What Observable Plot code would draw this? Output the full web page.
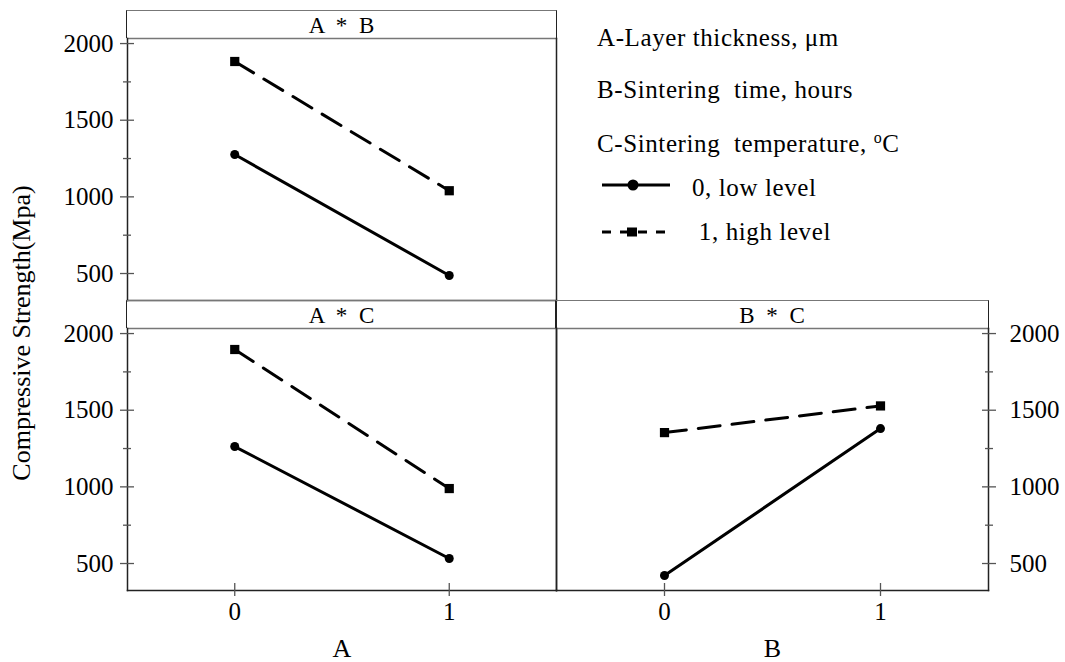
<!DOCTYPE html>
<html><head><meta charset="utf-8">
<script src="https://cdn.jsdelivr.net/npm/d3@7"></script>
<script src="https://cdn.jsdelivr.net/npm/@observablehq/plot@0.6"></script>
<style>
body{margin:0;background:#fff;}
#chart{position:relative;width:1065px;height:662px;background:#fff;font-family:'Liberation Serif';color:#000;overflow:hidden}
#chart svg.plotsvg{position:absolute;left:0;top:0;}
.strip{position:absolute;box-sizing:border-box;border-left:1.5px solid #222;border-right:1.5px solid #222;border-top:1.3px solid #777;height:28px;padding-left:3px;text-align:center;font-size:23px;letter-spacing:3px;line-height:30px;white-space:pre;font-family:'Liberation Serif';}
.t{position:absolute;white-space:pre;font-size:25px;line-height:1;font-family:'Liberation Serif';}
</style></head><body><div id="chart"></div>
<script>
// ---- data ----
const levels = [0, 1];
const abLow = [1276, 487];
const abHigh = [1883, 1040];
const acLow = [1263, 533];
const acHigh = [1896, 989];
const bcLow = [422, 1380];
const bcHigh = [1354, 1528];
const yMajor = [500, 1000, 1500, 2000];
const yMinor = [750, 1250, 1750];
const xTicks = [0, 1];
const strips = ["A * B", "A * C", "B * C"];
const xTitles = ["A", "B"];
const yTitle = "Compressive Strength(Mpa)";
const legendFactors = ["A-Layer thickness, μm", "B-Sintering  time, hours", "C-Sintering  temperature, "];
const legendLevels = ["0, low level", " 1, high level"];

const W = 1065, H = 662;
const FONT = "'Liberation Serif'";
const chart = document.getElementById("chart");
const fmt = d => String(d);

function rowsOf(low, high) {
  return levels.flatMap((x, i) => [{x, y: low[i], c: "low"}, {x, y: high[i], c: "high"}]);
}

function panel({left, right, top, bottom, low, high, yAnchor, xAxis, xLabel}) {
  const rows = rowsOf(low, high);
  const lowD = rows.filter(d => d.c === "low");
  const highD = rows.filter(d => d.c === "high");
  const s = yAnchor === "left" ? 1 : -1;
  const marks = [
    Plot.frame({anchor: "top", stroke: "#777", strokeWidth: 1.3}),
    Plot.frame({anchor: "left", stroke: "#222", strokeWidth: 1.5}),
    Plot.frame({anchor: "right", stroke: "#222", strokeWidth: 1.5}),
    Plot.frame({anchor: "bottom", stroke: "#222", strokeWidth: 1.5}),
    Plot.axisY(yMajor, {anchor: yAnchor, tickSize: 14, dx: 7 * s, fill: "none", stroke: "#555", strokeWidth: 1.3, label: null}),
    Plot.axisY(yMinor, {anchor: yAnchor, tickSize: 8, dx: 4 * s, fill: "none", stroke: "#555", strokeWidth: 1.3, label: null}),
    Plot.axisY(yMajor, {anchor: yAnchor, tickSize: 0, tickPadding: yAnchor === "left" ? 14 : 21, tickFormat: fmt, fontSize: 25, fontFamily: FONT, fill: "#000", label: null}),
    Plot.line(lowD, {x: "x", y: "y", stroke: "#000", strokeWidth: 3}),
    Plot.line(highD, {x: "x", y: "y", stroke: "#000", strokeWidth: 3, strokeDasharray: "22,12"}),
    Plot.dot(lowD, {x: "x", y: "y", symbol: "circle", r: 4.5, fill: "#000", stroke: "none"}),
    Plot.dot(highD, {x: "x", y: "y", symbol: "square", r: 5.2, fill: "#000", stroke: "none"})
  ];
  if (xAxis) {
    marks.push(
      Plot.axisX(xTicks, {anchor: "bottom", tickSize: 13, dy: -7, fill: "none", stroke: "#555", strokeWidth: 1.3, label: null}),
      Plot.axisX(xTicks, {anchor: "bottom", tickSize: 0, tickPadding: 12, tickFormat: fmt, fontSize: 25, fontFamily: FONT, fill: "#000", label: null}),
      Plot.text([xLabel], {text: d => d, frameAnchor: "bottom", dy: 58, lineAnchor: "middle", fontSize: 26, fontFamily: FONT, fill: "#000"})
    );
  }
  const svg = Plot.plot({
    width: W, height: H,
    marginLeft: left, marginRight: W - right, marginTop: top, marginBottom: H - bottom,
    style: {background: "transparent", overflow: "visible", fontFamily: FONT, color: "#000"},
    x: {domain: [-0.5, 1.5], axis: null},
    y: {domain: [324, 2033], axis: null},
    marks
  });
  svg.classList.add("plotsvg");
  chart.appendChild(svg);
}

panel({left: 127, right: 556, top: 38, bottom: 300, low: abLow, high: abHigh, yAnchor: "left", xAxis: false});
panel({left: 127, right: 556, top: 328, bottom: 590, low: acLow, high: acHigh, yAnchor: "left", xAxis: true, xLabel: xTitles[0]});
panel({left: 556, right: 988, top: 328, bottom: 590, low: bcLow, high: bcHigh, yAnchor: "right", xAxis: true, xLabel: xTitles[1]});

// strips
[[127, 10, 429, strips[0]], [127, 300, 429, strips[1]], [556, 300, 432, strips[2]]].forEach(([l, t, w, s]) => {
  const d = document.createElement("div");
  d.className = "strip";
  Object.assign(d.style, {left: (l - 0.75) + "px", top: t + "px", width: (w + 1.5) + "px"});
  d.textContent = s;
  chart.appendChild(d);
});

// y title
const yt = document.createElement("div");
yt.className = "t";
yt.textContent = yTitle;
Object.assign(yt.style, {left: "22px", top: "333px", fontSize: "26px", transform: "translate(-50%,-50%) rotate(-90deg)"});
chart.appendChild(yt);

// legend text
const lt = [[597, 38], [597, 90], [597, 143]];
legendFactors.forEach((s, i) => {
  const d = document.createElement("div");
  d.className = "t";
  d.textContent = s;
  if (i === 2) {
    const sup = document.createElement("span");
    sup.textContent = "o";
    Object.assign(sup.style, {fontSize: "16px", verticalAlign: "9px"});
    d.appendChild(sup);
    d.appendChild(document.createTextNode("C"));
  }
  Object.assign(d.style, {left: lt[i][0] + "px", top: (lt[i][1] - 13) + "px", letterSpacing: "0.6px"});
  chart.appendChild(d);
});
[[692, 188], [692, 232]].forEach(([x, y], i) => {
  const d = document.createElement("div");
  d.className = "t";
  d.textContent = legendLevels[i];
  Object.assign(d.style, {left: x + "px", top: (y - 13) + "px", letterSpacing: "0.6px"});
  chart.appendChild(d);
});
// legend swatches
const ns = "http://www.w3.org/2000/svg";
const sw = document.createElementNS(ns, "svg");
sw.setAttribute("width", W); sw.setAttribute("height", H);
sw.style.position = "absolute"; sw.style.left = "0"; sw.style.top = "0";
sw.innerHTML = `
<line x1="602" y1="185" x2="670" y2="185" stroke="#000" stroke-width="3"/>
<circle cx="633" cy="185" r="5.5" fill="#000"/>
<line x1="602" y1="232" x2="668" y2="232" stroke="#000" stroke-width="3" stroke-dasharray="9,9"/>
<rect x="627" y="227.5" width="10" height="9" fill="#000"/>`;
chart.appendChild(sw);
</script></body></html>
